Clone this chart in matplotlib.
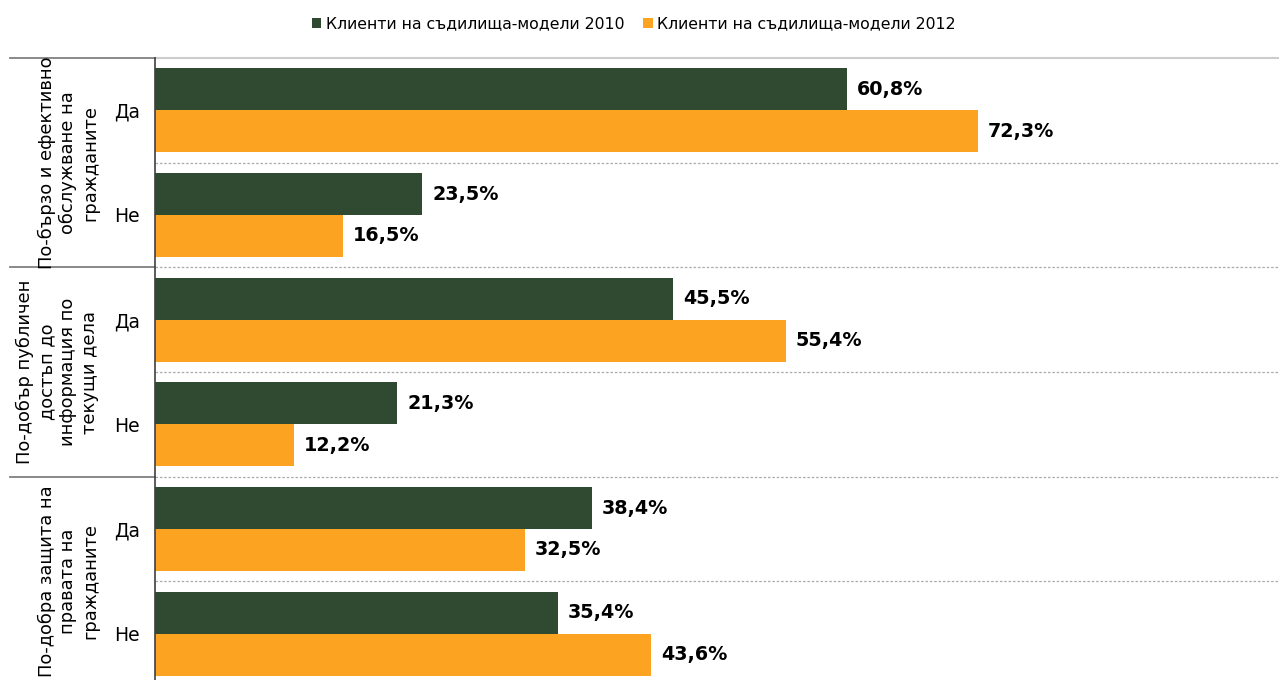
import matplotlib
matplotlib.use("Agg")
import matplotlib.pyplot as plt
from matplotlib.patches import Patch
from matplotlib.lines import Line2D
import matplotlib.transforms as mtransforms

groups = ["По-бързо и ефективно\nобслужване на\nгражданите",
          "По-добър публичен\nдостъп до\nинформация по\nтекущи дела",
          "По-добра защита на\nправата на\nгражданите"]
answers = ["Да", "Не", "Да", "Не", "Да", "Не"]
series_names = ["Клиенти на съдилища-модели 2010", "Клиенти на съдилища-модели 2012"]
values_2010 = [60.8, 23.5, 45.5, 21.3, 38.4, 35.4]
values_2012 = [72.3, 16.5, 55.4, 12.2, 32.5, 43.6]
colors = ["#304A31", "#FCA322"]

W, H = 1279, 680
fig = plt.figure(figsize=(W / 100, H / 100), dpi=100)
left_px, top_px, bottom_px = 155, 58, 686
ax = fig.add_axes([left_px / W, 1 - bottom_px / H, 1 - left_px / W, (bottom_px - top_px) / H])

n = len(answers)
ys = list(range(n))
bh = 0.4
ax.barh([y - bh / 2 for y in ys], values_2010, height=bh, color=colors[0])
ax.barh([y + bh / 2 for y in ys], values_2012, height=bh, color=colors[1])

px_per_unit = 692 / 60.8
ax.set_xlim(0, (W - left_px) / px_per_unit)
ax.set_ylim(n - 0.5, -0.5)

off = 10 / px_per_unit
for y, v in zip(ys, values_2010):
    ax.text(v + off, y - bh / 2, f"{v:.1f}%".replace(".", ","), va="center", ha="left",
            fontsize=13.8, fontweight="bold", color="black")
for y, v in zip(ys, values_2012):
    ax.text(v + off, y + bh / 2, f"{v:.1f}%".replace(".", ","), va="center", ha="left",
            fontsize=13.8, fontweight="bold", color="black")

ax.set_yticks(ys)
ax.set_yticklabels(answers, fontsize=13.5)
ax.tick_params(axis="y", length=0, pad=11)
ax.set_xticks([])
for s in ["top", "right", "bottom"]:
    ax.spines[s].set_visible(False)
ax.spines["left"].set_color("#404040")
ax.spines["left"].set_linewidth(1.2)

# dashed separators between categories
for b in [0.5, 1.5, 2.5, 3.5, 4.5]:
    ax.axhline(b, color="#AAAAAA", lw=0.9, ls=(0, (2, 1.5)))
ax.axhline(-0.5, color="#CCCCCC", lw=1.5, clip_on=False)

# group separators in the label area
trans = mtransforms.blended_transform_factory(fig.transFigure, ax.transData)
for b in [-0.5, 1.5, 3.5]:
    ax.add_line(Line2D([10 / W, left_px / W], [b, b], transform=trans, color="#808080",
                       lw=1.3, clip_on=False))

# group labels
for gi, g in enumerate(groups):
    yc = 2 * gi + 0.5
    ax.text(99 / W, yc, g, transform=trans, rotation=90, ha="right", va="center",
            fontsize=12.9, linespacing=1.25, multialignment="center")

handles = [Patch(facecolor=c, edgecolor="none") for c in colors]
fig.legend(handles, series_names, loc="center", bbox_to_anchor=(634 / W, 1 - 24 / H),
           ncol=2, frameon=False, fontsize=11.3, handlelength=0.6, handleheight=0.6,
           handletextpad=0.3, columnspacing=1.2)

fig.savefig("out.png", dpi=100)
